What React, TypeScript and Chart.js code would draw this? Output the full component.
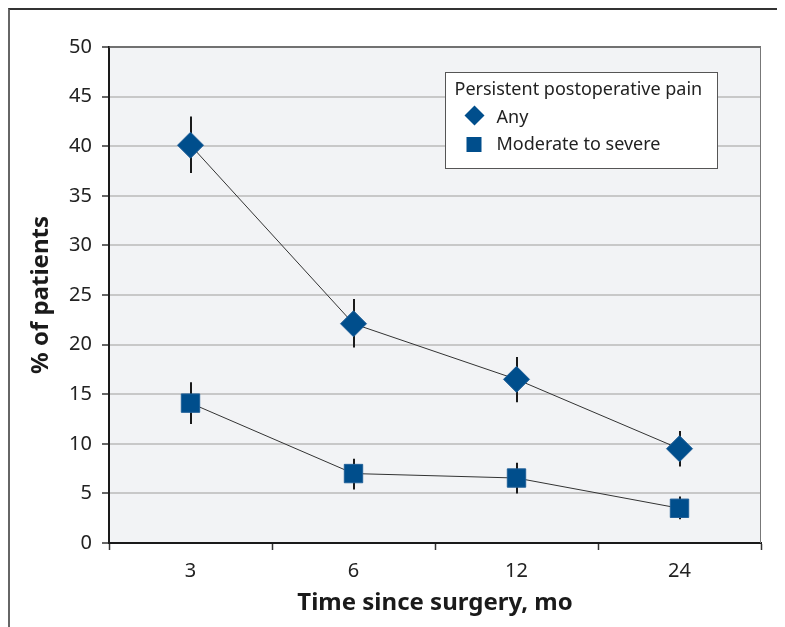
import React, { useEffect, useRef } from "react";
import { Chart, registerables } from "chart.js";

Chart.register(...registerables);

const categories = ["3", "6", "12", "24"];
const legendTitle = "Persistent postoperative pain";
const seriesLabels = ["Any", "Moderate to severe"];
const anyValues = [40.1, 22.1, 16.5, 9.5];
const anyLow = [37.3, 19.7, 14.2, 7.7];
const anyHigh = [43.0, 24.6, 18.75, 11.3];
const modValues = [14.1, 7.0, 6.55, 3.5];
const modLow = [12.0, 5.4, 5.0, 2.4];
const modHigh = [16.2, 8.5, 8.1, 4.7];
const yTicks = [0, 5, 10, 15, 20, 25, 30, 35, 40, 45, 50];
const xTitle = "Time since surgery, mo";
const yTitle = "% of patients";

const FONT = "'Noto Sans', 'Open Sans', sans-serif";
const MARKER = "#004e8c";

const errorBars = {
  id: "errorBars",
  beforeDatasetsDraw(chart: any) {
    const { ctx, scales } = chart;
    const x = scales.x;
    const y = scales.y;
    ctx.save();
    ctx.strokeStyle = "#1a1a1a";
    ctx.lineWidth = 2;
    const sets = [
      [anyLow, anyHigh],
      [modLow, modHigh],
    ];
    sets.forEach(([lo, hi]) => {
      categories.forEach((_, i) => {
        const px = Math.round(x.getPixelForValue(i));
        ctx.beginPath();
        ctx.moveTo(px, y.getPixelForValue(lo[i]));
        ctx.lineTo(px, y.getPixelForValue(hi[i]));
        ctx.stroke();
      });
    });
    ctx.restore();
  },
};

const frameAndLegend = {
  id: "frameAndLegend",
  beforeDraw(chart: any) {
    const { ctx, chartArea: a } = chart;
    ctx.save();
    ctx.fillStyle = "#f2f3f5";
    ctx.fillRect(a.left, a.top, a.right - a.left, a.bottom - a.top);
    ctx.restore();
  },
  afterDraw(chart: any) {
    const { ctx, chartArea: a } = chart;
    ctx.save();
    ctx.strokeStyle = "#555";
    ctx.lineWidth = 1.5;
    ctx.beginPath();
    ctx.moveTo(a.left, a.top);
    ctx.lineTo(a.right, a.top);
    ctx.stroke();
    ctx.strokeStyle = "#777";
    ctx.lineWidth = 1;
    ctx.beginPath();
    ctx.moveTo(a.right - 0.5, a.top);
    ctx.lineTo(a.right - 0.5, a.bottom);
    ctx.stroke();

    const bx = a.left + 336.5;
    const by = a.top + 25.5;
    const bw = 272;
    const bh = 96;
    ctx.fillStyle = "#ffffff";
    ctx.fillRect(bx, by, bw, bh);
    ctx.strokeStyle = "#555";
    ctx.lineWidth = 1;
    ctx.strokeRect(bx, by, bw, bh);

    ctx.fillStyle = "#222";
    ctx.font = `18px ${FONT}`;
    ctx.textBaseline = "middle";
    ctx.textAlign = "left";
    ctx.fillText(legendTitle, bx + 9, by + 17);
    ctx.fillText(seriesLabels[0], bx + 51, by + 45);
    ctx.fillText(seriesLabels[1], bx + 51, by + 72);

    ctx.fillStyle = MARKER;
    const dx = bx + 29;
    const dy = by + 43;
    ctx.beginPath();
    ctx.moveTo(dx, dy - 10);
    ctx.lineTo(dx + 10, dy);
    ctx.lineTo(dx, dy + 10);
    ctx.lineTo(dx - 10, dy);
    ctx.closePath();
    ctx.fill();
    ctx.fillRect(bx + 21, by + 64.5, 15, 15);
    ctx.restore();
  },
};

export default function App() {
  const ref = useRef<HTMLCanvasElement>(null);
  useEffect(() => {
    if (!ref.current) return;
    const chart = new Chart(ref.current, {
      type: "line",
      data: {
        labels: categories,
        datasets: [
          {
            label: seriesLabels[0],
            data: anyValues,
            borderColor: "#333",
            borderWidth: 1,
            pointStyle: "rectRot",
            pointRadius: 13,
            pointHoverRadius: 13,
            pointBackgroundColor: MARKER,
            pointBorderColor: "#1f5f98",
            pointBorderWidth: 1,
          },
          {
            label: seriesLabels[1],
            data: modValues,
            borderColor: "#333",
            borderWidth: 1,
            pointStyle: "rect",
            pointRadius: 13,
            pointHoverRadius: 13,
            pointBackgroundColor: MARKER,
            pointBorderColor: "#1f5f98",
            pointBorderWidth: 1,
          },
        ],
      },
      options: {
        animation: false,
        responsive: false,
        events: [],
        layout: { padding: { top: 39, right: 24, left: 0, bottom: 0 } },
        plugins: { legend: { display: false }, tooltip: { enabled: false } },
        scales: {
          x: {
            type: "category",
            offset: true,
            grid: {
              offset: true,
              drawOnChartArea: false,
              drawTicks: true,
              tickLength: 7,
              tickColor: "#333",
              tickWidth: 1.5,
            },
            border: { display: true, color: "#1a1a1a", width: 2 },
            ticks: { color: "#222", font: { family: FONT, size: 20 }, padding: 9 },
            title: {
              display: true,
              text: xTitle,
              color: "#1a1a1a",
              font: { family: FONT, size: 24, weight: "bold" },
              padding: { top: 0, bottom: 9 },
            },
            afterFit(s: any) {
              s.height = 84;
            },
          },
          y: {
            min: 0,
            max: 50,
            afterBuildTicks(s: any) {
              s.ticks = yTicks.map((v) => ({ value: v }));
            },
            grid: {
              color: "#c8c8c8",
              lineWidth: 2,
              tickLength: 7,
              tickColor: "#333",
              tickWidth: 1.5,
            },
            border: { display: true, color: "#1a1a1a", width: 2 },
            ticks: { color: "#222", font: { family: FONT, size: 20 }, padding: 10 },
            title: {
              display: true,
              text: yTitle,
              color: "#1a1a1a",
              font: { family: FONT, size: 24, weight: "bold" },
              padding: { top: 19, bottom: 0 },
            },
            afterFit(s: any) {
              s.width = 101;
            },
          },
        },
      },
      plugins: [frameAndLegend, errorBars],
    });
    return () => chart.destroy();
  }, []);

  return (
    <div
      style={{
        position: "relative",
        width: 777,
        height: 619,
        boxSizing: "border-box",
        borderTop: "2px solid #333",
        borderLeft: "2px solid #666",
      }}
    >
      <div style={{ position: "absolute", left: -2, top: -2 }}>
        <canvas ref={ref} width={777} height={619} style={{ display: "block" }} />
      </div>
    </div>
  );
}
